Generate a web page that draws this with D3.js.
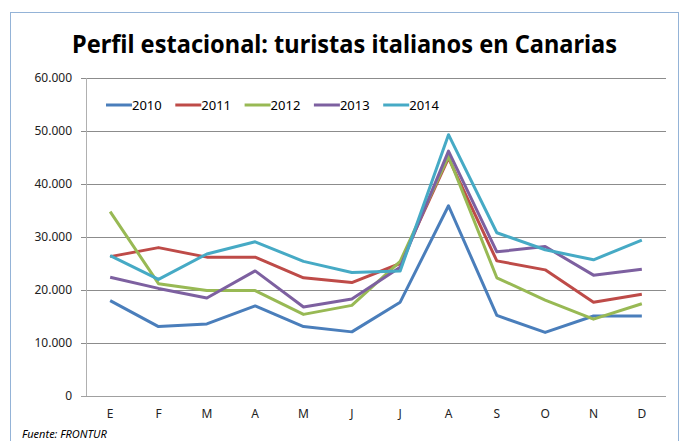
<!DOCTYPE html>
<html>
<head>
<meta charset="utf-8">
<script src="https://cdnjs.cloudflare.com/ajax/libs/d3/7.8.5/d3.min.js"></script>
<style>
  body { margin: 0; background: #fff; }
  svg { display: block; font-family: "Noto Sans", "Open Sans", sans-serif; }
</style>
</head>
<body>
<script>
// tamaño del svg
var w = 683;
var h = 441;

// datos
var meses = ["E", "F", "M", "A", "M", "J", "J", "A", "S", "O", "N", "D"];
var anios = ["2010", "2011", "2012", "2013", "2014"];
var v2010 = [18000, 13100, 13600, 17000, 13100, 12100, 17700, 35900, 15200, 12000, 15100, 15100];
var v2011 = [26300, 28000, 26200, 26200, 22300, 21400, 25000, 44900, 25500, 23800, 17700, 19200];
var v2012 = [34800, 21200, 19900, 19900, 15400, 17100, 25400, 45200, 22300, 18100, 14500, 17400];
var v2013 = [22400, 20300, 18500, 23600, 16800, 18300, 24300, 46200, 27200, 28200, 22800, 23900];
var v2014 = [26500, 22000, 26800, 29100, 25400, 23300, 23600, 49300, 30800, 27600, 25700, 29400];
var yTicks = [0, 10000, 20000, 30000, 40000, 50000, 60000];
var colores = ["#4a7ebb", "#be4b48", "#98b954", "#7d60a0", "#46aac5"];
var series = [v2010, v2011, v2012, v2013, v2014];

var svg = d3.select("body").append("svg")
    .attr("width", w)
    .attr("height", h);

// marco del gráfico
svg.append("rect")
    .attr("x", 10.5)
    .attr("y", 12.5)
    .attr("width", 668)
    .attr("height", 460)
    .attr("fill", "white")
    .attr("stroke", "#94b3d7")
    .attr("stroke-width", 1);

// título
svg.append("text")
    .attr("x", 72)
    .attr("y", 53)
    .attr("font-size", 25)
    .attr("font-weight", "bold")
    .attr("textLength", 545)
    .attr("lengthAdjust", "spacingAndGlyphs")
    .attr("fill", "#000")
    .text("Perfil estacional: turistas italianos en Canarias");

// escalas
var x = d3.scaleBand()
    .domain(d3.range(meses.length))
    .range([86, 666]);

var y = d3.scaleLinear()
    .domain([0, 60000])
    .range([396, 78]);

// líneas de la cuadrícula
svg.selectAll("line.grid")
    .data(yTicks)
    .enter()
    .append("line")
    .attr("class", "grid")
    .attr("x1", 81)
    .attr("x2", 666)
    .attr("y1", function (d) { return Math.round(y(d)) + 0.5; })
    .attr("y2", function (d) { return Math.round(y(d)) + 0.5; })
    .attr("stroke", function (d) { return d == 0 ? "#a0a0a0" : "#8c8c8c"; })
    .attr("stroke-width", 1);

// eje vertical
svg.append("line")
    .attr("x1", 86.5)
    .attr("x2", 86.5)
    .attr("y1", y(60000))
    .attr("y2", y(0))
    .attr("stroke", "#b0b0b0");

// etiquetas del eje y
svg.selectAll("text.ytick")
    .data(yTicks)
    .enter()
    .append("text")
    .attr("class", "ytick")
    .attr("x", 72)
    .attr("y", function (d) { return y(d) + 4; })
    .attr("text-anchor", "end")
    .attr("font-size", 12)
    .attr("fill", "#222")
    .text(function (d) { return d == 0 ? "0" : d3.format(",")(d).replace(/,/g, "."); });

// etiquetas del eje x
svg.selectAll("text.xtick")
    .data(meses)
    .enter()
    .append("text")
    .attr("class", "xtick")
    .attr("x", function (d, i) { return x(i) + x.bandwidth() / 2; })
    .attr("y", 418)
    .attr("text-anchor", "middle")
    .attr("font-size", 12)
    .attr("fill", "#222")
    .text(function (d) { return d; });

// líneas
var line = d3.line()
    .x(function (d, i) { return x(i) + x.bandwidth() / 2; })
    .y(function (d) { return y(d); });

svg.selectAll("path.serie")
    .data(series)
    .enter()
    .append("path")
    .attr("class", "serie")
    .attr("d", line)
    .attr("fill", "none")
    .attr("stroke", function (d, i) { return colores[i]; })
    .attr("stroke-width", 3)
    .attr("stroke-linejoin", "round");

// leyenda
var leg = svg.selectAll("g.leg")
    .data(anios)
    .enter()
    .append("g")
    .attr("class", "leg")
    .attr("transform", function (d, i) { return "translate(" + (106 + i * 69.3) + ",105)"; });

leg.append("line")
    .attr("x1", 0)
    .attr("x2", 26)
    .attr("stroke", function (d, i) { return colores[i]; })
    .attr("stroke-width", 3);

leg.append("text")
    .attr("x", 26)
    .attr("y", 5)
    .attr("font-size", 13)
    .attr("fill", "#000")
    .text(function (d) { return d; });

// fuente
svg.append("text")
    .attr("x", 22)
    .attr("y", 438)
    .attr("font-size", 11)
    .attr("font-style", "italic")
    .attr("fill", "#000")
    .text("Fuente: FRONTUR");
</script>
</body>
</html>
